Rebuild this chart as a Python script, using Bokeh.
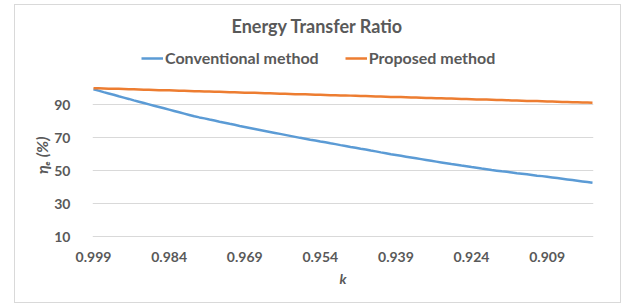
from bokeh.plotting import figure
from bokeh.models import (Range1d, FixedTicker, Legend, LegendItem, Label,
                          ColumnDataSource)
from bokeh.embed import file_html
from bokeh.resources import INLINE

# ---- data ----
k_labels = [
    "0.999", "0.998", "0.997", "0.996", "0.995", "0.994", "0.993", "0.992", "0.991", "0.990",
    "0.989", "0.988", "0.987", "0.986", "0.985", "0.984", "0.983", "0.982", "0.981", "0.980",
    "0.979", "0.978", "0.977", "0.976", "0.975", "0.974", "0.973", "0.972", "0.971", "0.970",
    "0.969", "0.968", "0.967", "0.966", "0.965", "0.964", "0.963", "0.962", "0.961", "0.960",
    "0.959", "0.958", "0.957", "0.956", "0.955", "0.954", "0.953", "0.952", "0.951", "0.950",
    "0.949", "0.948", "0.947", "0.946", "0.945", "0.944", "0.943", "0.942", "0.941", "0.940",
    "0.939", "0.938", "0.937", "0.936", "0.935", "0.934", "0.933", "0.932", "0.931", "0.930",
    "0.929", "0.928", "0.927", "0.926", "0.925", "0.924", "0.923", "0.922", "0.921", "0.920",
    "0.919", "0.918", "0.917", "0.916", "0.915", "0.914", "0.913", "0.912", "0.911", "0.910",
    "0.909", "0.908", "0.907", "0.906", "0.905", "0.904", "0.903", "0.902", "0.901", "0.900",
]

conventional = [
    99.4, 98.5, 97.6, 96.8, 96.0, 95.1, 94.3, 93.5, 92.6, 91.8,
    91.0, 90.2, 89.4, 88.6, 87.8, 87.0, 86.2, 85.4, 84.6, 83.8,
    83.0, 82.3, 81.7, 81.0, 80.4, 79.7, 79.1, 78.4, 77.8, 77.1,
    76.5, 75.9, 75.3, 74.7, 74.1, 73.5, 72.9, 72.3, 71.7, 71.1,
    70.5, 69.9, 69.4, 68.8, 68.3, 67.7, 67.2, 66.6, 66.1, 65.5,
    65.0, 64.4, 63.9, 63.3, 62.8, 62.2, 61.7, 61.1, 60.6, 60.0,
    59.5, 59.0, 58.5, 58.0, 57.5, 57.0, 56.5, 56.0, 55.5, 55.0,
    54.5, 54.0, 53.6, 53.1, 52.7, 52.2, 51.8, 51.3, 50.9, 50.4,
    50.0, 49.6, 49.3, 48.9, 48.5, 48.2, 47.8, 47.4, 47.0, 46.7,
    46.3, 45.9, 45.5, 45.1, 44.7, 44.3, 43.9, 43.5, 43.1, 42.7,
]

proposed = [
    100.0, 99.9, 99.8, 99.7, 99.6, 99.6, 99.5, 99.4, 99.3, 99.2,
    99.1, 99.0, 98.9, 98.8, 98.8, 98.7, 98.6, 98.5, 98.4, 98.3,
    98.2, 98.1, 98.0, 98.0, 97.9, 97.8, 97.7, 97.6, 97.5, 97.4,
    97.3, 97.2, 97.2, 97.1, 97.0, 96.9, 96.8, 96.7, 96.6, 96.5,
    96.4, 96.4, 96.3, 96.2, 96.1, 96.0, 95.9, 95.8, 95.7, 95.6,
    95.6, 95.5, 95.4, 95.3, 95.2, 95.1, 95.0, 94.9, 94.8, 94.7,
    94.7, 94.6, 94.5, 94.4, 94.3, 94.2, 94.1, 94.0, 93.9, 93.9,
    93.8, 93.7, 93.6, 93.5, 93.4, 93.3, 93.2, 93.1, 93.1, 93.0,
    92.9, 92.8, 92.7, 92.6, 92.5, 92.4, 92.3, 92.3, 92.2, 92.1,
    92.0, 91.9, 91.8, 91.7, 91.6, 91.5, 91.5, 91.4, 91.3, 91.2,
]

y_ticks = [10, 30, 50, 70, 90]
x_tick_idx = [0, 15, 30, 45, 60, 75, 90]
chart_title = "Energy Transfer Ratio"
series_names = ["Conventional method", "Proposed method"]
y_title = "ηₑ (%)"
x_title = "k"

BLUE = "#5B9BD5"
ORANGE = "#ED7D31"
TXT = "#595959"
GRID = "#D9D9D9"
FONT = "Lato"

idx = list(range(len(k_labels)))
src = ColumnDataSource(dict(x=idx, k=k_labels, conv=conventional, prop=proposed))

# frame extends up to the top so the title and legend can live inside it
p = figure(width=607, height=299, output_backend="svg", toolbar_location=None,
           x_range=Range1d(-0.2, 99.2), y_range=Range1d(9.5, 147.1),
           min_border_left=77, min_border_right=29, min_border_top=5,
           min_border_bottom=67)
p.outline_line_color = None
p.background_fill_color = "white"
p.border_fill_color = "white"
p.styles = {"border": "1px solid #D9D9D9", "margin-left": "14px", "margin-top": "4px"}

r1 = p.line("x", "conv", source=src, line_color=BLUE, line_width=2.5, line_join="round")
r2 = p.line("x", "prop", source=src, line_color=ORANGE, line_width=2.5, line_join="round")

# axes
p.xaxis.ticker = FixedTicker(ticks=x_tick_idx)
p.xaxis.major_label_overrides = {i: k_labels[i] for i in x_tick_idx}
p.yaxis.ticker = FixedTicker(ticks=y_ticks)
for ax in (p.xaxis[0], p.yaxis[0]):
    ax.axis_line_color = None
    ax.major_tick_line_color = None
    ax.minor_tick_line_color = None
    ax.major_label_text_font = FONT
    ax.major_label_text_font_style = "bold"
    ax.major_label_text_font_size = "14px"
    ax.major_label_text_color = TXT
    ax.axis_label_text_font = FONT
    ax.axis_label_text_font_style = "bold italic"
    ax.axis_label_text_font_size = "14px"
    ax.axis_label_text_color = TXT
p.xaxis.major_label_standoff = 8
p.yaxis.major_label_standoff = 16
p.xaxis.axis_label = x_title
p.xaxis.axis_label_standoff = 5
# trailing em spaces move the visible label down to the centre of the gridded area
p.yaxis.axis_label = y_title + "\u2003" * 5 + "\u2002"
p.yaxis.axis_label_text_font_size = "16px"
p.yaxis.axis_label_standoff = 0

p.xgrid.grid_line_color = None
p.ygrid.grid_line_color = GRID
p.ygrid.grid_line_width = 1

title = Label(x=225, y=212, x_units="screen", y_units="screen",
              text=chart_title, text_font=FONT, text_font_style="bold",
              text_font_size="18px", text_color=TXT, text_align="center",
              text_baseline="middle")
p.add_layout(title)

legend = Legend(items=[LegendItem(label=series_names[0], renderers=[r1]),
                       LegendItem(label=series_names[1], renderers=[r2])],
                location=(49, 170), orientation="horizontal",
                glyph_width=22, glyph_height=16, label_height=16,
                label_standoff=2, spacing=26, padding=0, margin=0,
                border_line_color=None, background_fill_alpha=0,
                label_text_font=FONT, label_text_font_style="bold",
                label_text_font_size="16px", label_text_color=TXT)
p.add_layout(legend)

open("out.html", "w").write(file_html(p, INLINE))
